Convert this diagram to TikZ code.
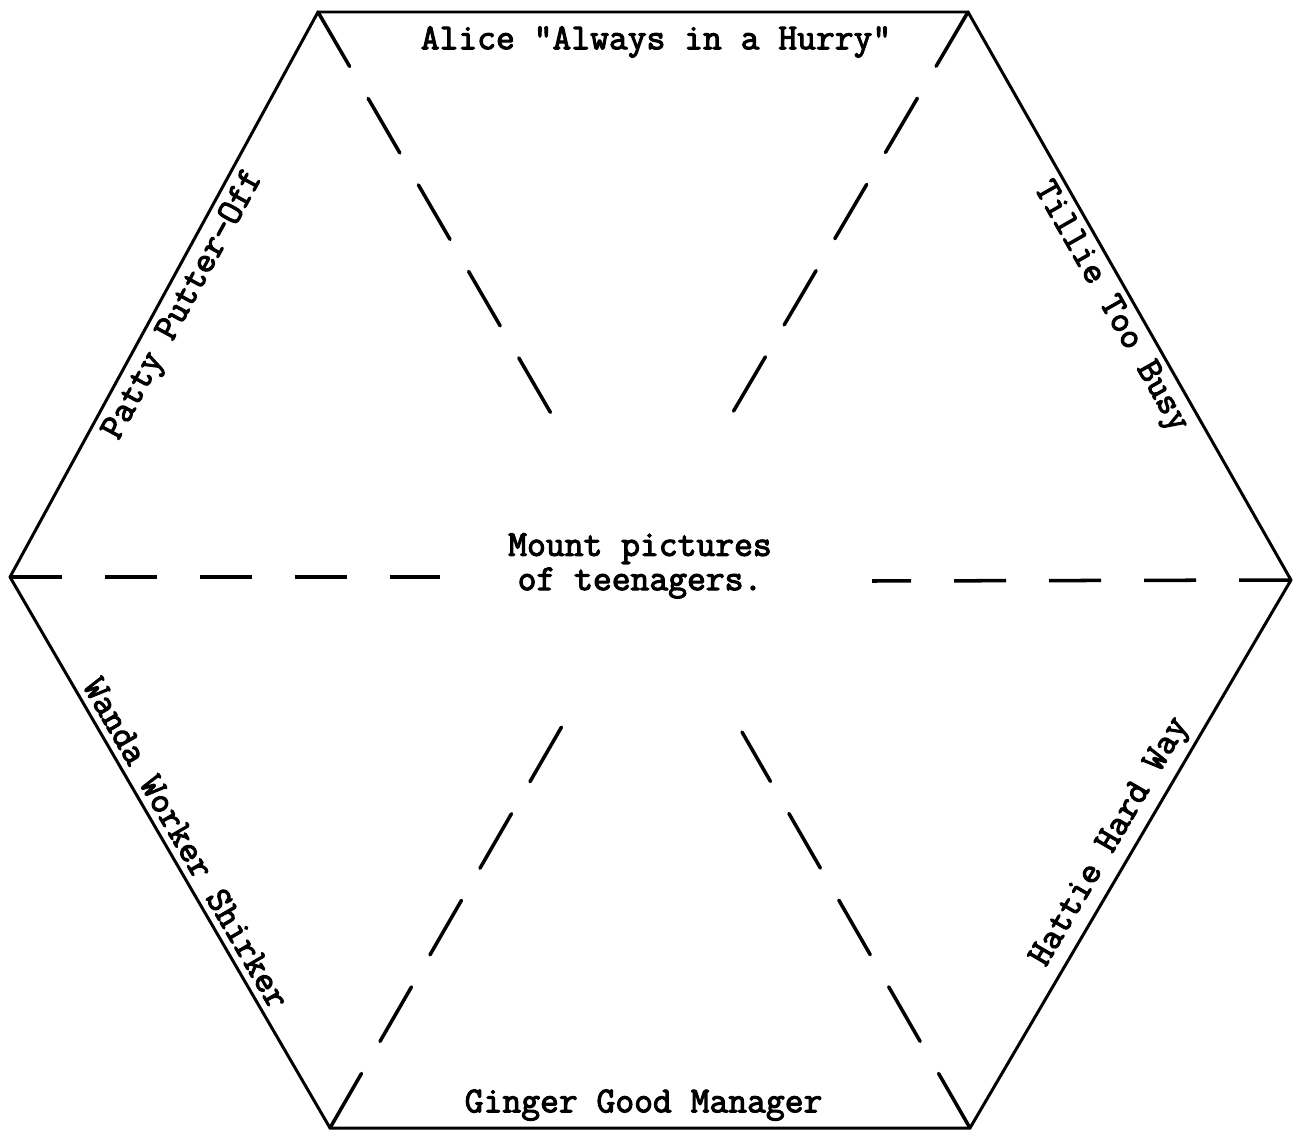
\documentclass[tikz,border=0pt]{standalone}
\usepackage{fontspec}
\newfontfamily\typewriter{Latin Modern Mono}[FakeBold=3]
\tikzset{
    edge/.style={line width=1.7pt, line join=round},
    spoke/.style={line width=2pt, line cap=round, dash pattern=on 1.26cm off 0.74cm},
    midline/.style={line width=2pt, dash pattern=on 1.04cm off 0.86cm},
    typed/.style={font=\fontsize{20.8}{19.5}\selectfont\typewriter}
}
\begin{document}
\begin{tikzpicture}[x=0.02cm, y=-0.02cm]
        \useasboundingbox (0, 0) rectangle (1295, 1132);
        % corners of the hexagon
        \coordinate (TL) at (318, 12);
        \coordinate (TR) at (968, 12);
        \coordinate (R) at (1291, 580);
        \coordinate (BR) at (970, 1128);
        \coordinate (BL) at (330, 1128);
        \coordinate (L) at (10, 577);
        % inner ends of the fold lines
        \coordinate (TLin) at (556, 422);
        \coordinate (TRin) at (733, 412);
        \coordinate (BLin) at (565, 721);
        \coordinate (BRin) at (742, 732);
        \coordinate (Lin) at (440, 577);
        \coordinate (Rin) at (872, 581);
        % sides with names
        \draw[edge] (TL) -- node[typed, sloped, below=4pt, pos=0.52] (alice) {Alice "Always in a Hurry"} (TR)
            -- node[typed, sloped, below, pos=0.5] (tillie) {Tillie Too Busy} (R)
            -- node[typed, sloped, above, pos=0.5] (hattie) {Hattie Hard Way} (BR)
            -- node[typed, sloped, above, pos=0.51] (ginger) {Ginger Good Manager} (BL)
            -- node[typed, sloped, above, pos=0.5] (wanda) {Wanda Worker Shirker} (L)
            -- node[typed, sloped, below, pos=0.5] (patty) {Patty Putter-Off} cycle;
        % fold lines
        \foreach \a/\b in {TL/TLin, TR/TRin, BL/BLin, BR/BRin}
            \draw[spoke] (\a) -- (\b);
        \draw[midline] (L) -- (Lin);
        \draw[midline] (R) -- (Rin);
        \node[typed, align=center] (mount) at (640, 566) {Mount pictures\\of teenagers.};
    \end{tikzpicture}
\end{document}
